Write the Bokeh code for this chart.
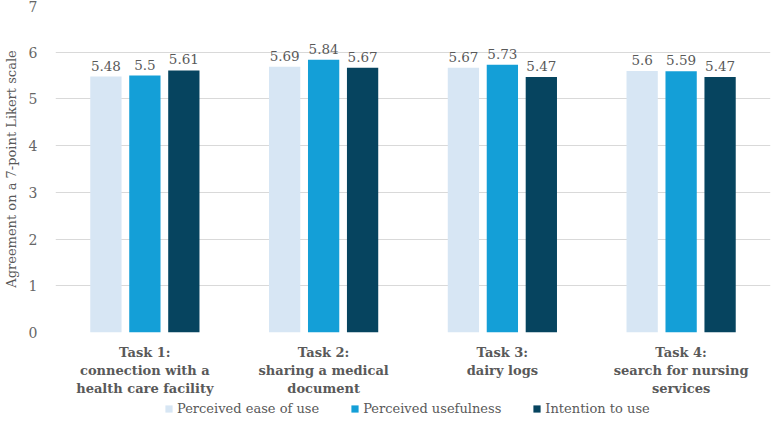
from bokeh.plotting import figure
from bokeh.layouts import column
from bokeh.models import FactorRange, Range1d, ColumnDataSource, Legend, LegendItem, FixedTicker
from bokeh.transform import dodge
from bokeh.core.properties import value
from bokeh.embed import file_html
from bokeh.resources import INLINE

# Tasks, captioned over several lines on the category axis
tasks = [
    "Task 1:\nconnection with a\nhealth care facility",
    "Task 2:\nsharing a medical\ndocument",
    "Task 3:\ndairy logs",
    "Task 4:\nsearch for nursing\nservices",
]

# Mean agreement scores per construct
ease_of_use = [5.48, 5.69, 5.67, 5.60]
usefulness = [5.50, 5.84, 5.73, 5.59]
intention = [5.61, 5.67, 5.47, 5.47]

series_names = ["Perceived ease of use", "Perceived usefulness", "Intention to use"]
series_values = [ease_of_use, usefulness, intention]
series_colors = ["#D7E6F4", "#149FD7", "#06445F"]
offsets = [-0.218, 0.0, 0.218]

FONT = "DejaVu Serif"
TEXT_COLOR = "#595959"

p = figure(
    width=771, height=398,
    x_range=FactorRange(*tasks, range_padding=0),
    y_range=Range1d(0, 7),
    output_backend="svg", toolbar_location=None,
    min_border_left=50, min_border_right=1,
    min_border_top=5, min_border_bottom=62,
)
p.outline_line_color = None
p.background_fill_color = "white"

for name, vals, color, off in zip(series_names, series_values, series_colors, offsets):
    src = ColumnDataSource(dict(task=tasks, v=vals, lbl=[f"{v:g}" for v in vals]))
    p.vbar(x=dodge("task", off, range=p.x_range), top="v", width=0.175,
           source=src, fill_color=color, line_color=None)
    p.text(x=dodge("task", off, range=p.x_range), y="v", text="lbl", source=src,
           text_align="center", text_baseline="bottom", y_offset=-6,
           text_font=value(FONT), text_font_size="13.5px", text_color=TEXT_COLOR)

# Axes
p.yaxis.ticker = FixedTicker(ticks=list(range(8)))
p.yaxis.axis_line_color = None
p.yaxis.major_tick_line_color = None
p.yaxis.minor_tick_line_color = None
p.yaxis.major_label_text_font = FONT
p.yaxis.major_label_text_font_size = "14px"
p.yaxis.major_label_text_color = "#666666"
p.yaxis.major_label_standoff = 12
p.yaxis.axis_label = "Agreement on a 7-point Likert scale"
p.yaxis.axis_label_text_font = FONT
p.yaxis.axis_label_text_font_size = "13px"
p.yaxis.axis_label_text_font_style = "normal"
p.yaxis.axis_label_text_color = TEXT_COLOR
p.yaxis.axis_label_standoff = 7

p.xaxis.axis_line_color = None
p.xaxis.major_tick_line_color = None
p.xaxis.minor_tick_line_color = None
p.xaxis.major_label_text_font = FONT
p.xaxis.major_label_text_font_size = "13px"
p.xaxis.major_label_text_font_style = "bold"
p.xaxis.major_label_text_color = TEXT_COLOR
p.xaxis.major_label_standoff = 6

p.xgrid.grid_line_color = None
p.ygrid.grid_line_color = "#D9D9D9"
p.ygrid.grid_line_width = 1

# Legend strip underneath the chart
lg = figure(
    width=771, height=24,
    x_range=Range1d(0, 1), y_range=Range1d(0, 1),
    output_backend="svg", toolbar_location=None,
    x_axis_location=None, y_axis_location=None,
    min_border=0,
)
lg.grid.visible = False
lg.outline_line_color = None

items = []
for name, color in zip(series_names, series_colors):
    # swatch renderer kept below the strip's visible range
    r = lg.vbar(x=[0.5], bottom=[-6], top=[-5], width=0.1, fill_color=color, line_color=None)
    items.append(LegendItem(label=name, renderers=[r]))

legend = Legend(
    items=items, orientation="horizontal", location=(109, 6),
    border_line_color=None, background_fill_alpha=0,
    label_text_font=FONT, label_text_font_size="13px", label_text_color=TEXT_COLOR,
    glyph_width=9, glyph_height=9, label_standoff=4, spacing=31,
    padding=2, margin=0,
)
lg.add_layout(legend, "center")

layout = column(p, lg, spacing=0)
open("out.html", "w").write(file_html(layout, INLINE))
